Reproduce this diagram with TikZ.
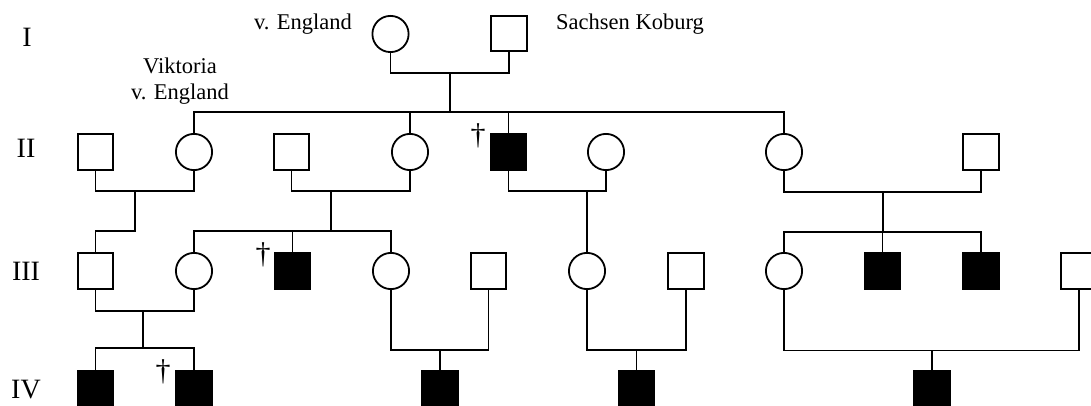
\documentclass[tikz,border=0pt]{standalone}
\usepackage{fontspec}
\setmainfont{Liberation Serif}
\begin{document}
\begin{tikzpicture}[x=1pt,y=-1pt,
  male/.style={draw, rectangle, minimum size=35.7pt, inner sep=0pt, line width=1.8pt},
  female/.style={draw, circle, minimum size=36.2pt, inner sep=0pt, line width=1.8pt},
  affected/.style={fill=black},
  link/.style={line width=1.5pt},
  gen/.style={font=\fontsize{28}{30}\selectfont, anchor=base, inner sep=0pt},
  lbl/.style={font=\fontsize{22.5}{26}\selectfont, anchor=base, inner sep=0pt},
  dagger/.style={font=\fontsize{30}{32}\selectfont, inner sep=0pt}]
\useasboundingbox (0,0) rectangle (1091,406);
\clip (0,0) rectangle (1091,406);

% generation labels
\node[gen] (nI)   at (27,47)  {I};
\node[gen] (nII)  at (26,158) {II};
\node[gen] (nIII) at (26,280) {III};
\node[gen] (nIV)  at (26,398) {IV};

% names
\node[lbl] (t1) at (303,30)  {v. England};
\node[lbl] (t2) at (630,30)  {Sachsen Koburg};
\node[lbl] (t3) at (180,74)  {Viktoria};
\node[lbl] (t4) at (180,100) {v. England};

% generation I
\node[female] (g1f) at (390.5,34) {};
\node[male]   (g1m) at (509,33.5) {};

% generation II
\node[male]            (a1) at (95.5,152)  {};
\node[female]          (a2) at (194,152)   {};
\node[male]            (a3) at (291.5,152) {};
\node[female]          (a4) at (410,152)   {};
\node[male, affected]  (a5) at (508.5,152) {};
\node[female]          (a6) at (606,152)   {};
\node[female]          (a7) at (784,152)   {};
\node[male]            (a8) at (981,152)   {};

% generation III
\node[male]            (b1)  at (95.5,271)  {};
\node[female]          (b2)  at (194,271)   {};
\node[male, affected]  (b3)  at (292.5,271) {};
\node[female]          (b4)  at (391,271)   {};
\node[male]            (b5)  at (488.5,271) {};
\node[female]          (b6)  at (587,271)   {};
\node[male]            (b7)  at (686,271)   {};
\node[female]          (b8)  at (784,271)   {};
\node[male, affected]  (b9)  at (882.5,271) {};
\node[male, affected]  (b10) at (981,271)   {};
\node[male]            (b11) at (1079,271)  {};

% generation IV
\node[male, affected] (c1) at (95.5,389)  {};
\node[male, affected] (c2) at (194,389)   {};
\node[male, affected] (c3) at (440,389)   {};
\node[male, affected] (c4) at (636.5,389) {};
\node[male, affected] (c5) at (932,389)   {};

% deceased marks
\node[dagger] (d1) at (478,136) {†};
\node[dagger] (d2) at (263,255) {†};
\node[dagger] (d3) at (163,372) {†};

% junction points
\coordinate (m0) at (450,73);   \coordinate (s0) at (450,112);
\coordinate (m1) at (135,191);  \coordinate (s1) at (135,231);
\coordinate (m2) at (331,191);  \coordinate (s2) at (331,231);
\coordinate (m3) at (587,191);
\coordinate (m4) at (883,192);  \coordinate (s4) at (883,232);
\coordinate (m5) at (143,311);  \coordinate (s5) at (143,348);
\coordinate (m6) at (440,350);
\coordinate (m7) at (636.5,350);
\coordinate (m8) at (932,350.5);

% I -> II
\draw[link] (g1f.south) |- (m0) -| (g1m.south);
\draw[link] (m0) -- (s0);
\draw[link] (a2.north) |- (s0) -| (a7.north);
\draw[link] (a4.north) -- (a4.north |- s0);
\draw[link] (a5.north) -- (a5.north |- s0);

% II -> III
\draw[link] (a1.south) |- (m1) -| (a2.south);
\draw[link] (m1) -- (s1) -| (b1.north);
\draw[link] (a3.south) |- (m2) -| (a4.south);
\draw[link] (m2) -- (s2);
\draw[link] (b2.north) |- (s2) -| (b4.north);
\draw[link] (b3.north) -- (b3.north |- s2);
\draw[link] (a5.south) |- (m3) -| (a6.south);
\draw[link] (m3) -- (b6.north);
\draw[link] (a7.south) |- (m4) -| (a8.south);
\draw[link] (m4) -- (s4);
\draw[link] (b8.north) |- (s4) -| (b10.north);
\draw[link] (b9.north) -- (b9.north |- s4);

% III -> IV
\draw[link] (b1.south) |- (m5) -| (b2.south);
\draw[link] (m5) -- (s5);
\draw[link] (c1.north) |- (s5) -| (c2.north);
\draw[link] (b4.south) |- (m6) -| (b5.south);
\draw[link] (m6) -- (c3.north);
\draw[link] (b6.south) |- (m7) -| (b7.south);
\draw[link] (m7) -- (c4.north);
\draw[link] (b8.south) |- (m8) -| (b11.south);
\draw[link] (m8) -- (c5.north);
\end{tikzpicture}
\end{document}
